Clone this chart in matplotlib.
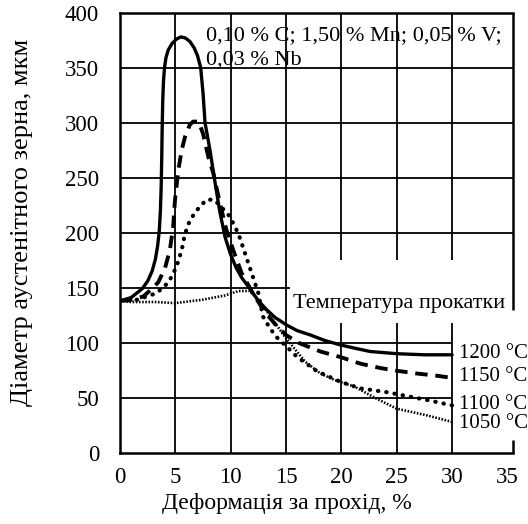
import matplotlib
matplotlib.use("Agg")
import matplotlib.pyplot as plt

plt.rcParams['font.family'] = ['Liberation Serif', 'DejaVu Serif']

# ---- data ----
x_1200 = [0, 1, 2, 2.5, 2.9, 3.2, 3.4, 3.55, 3.65, 3.72, 3.77, 3.81, 3.86, 3.93, 4.02, 4.15, 4.35, 4.7, 5.1, 5.5, 5.9, 6.3, 6.7, 7.0, 7.29, 7.5, 7.68, 8.13, 8.58, 9.0, 9.49, 10.0, 10.5, 11.0, 11.74, 12.5, 13.25, 14.0, 15.06, 16.0, 17.2, 18.5, 19.9, 21.2, 22.6, 25, 27.5, 30]
y_1200 = [138, 141, 149, 156, 165, 176, 188, 202, 220, 242, 268, 295, 320, 338, 350, 359, 366, 372, 376, 378, 377, 374, 368, 361, 350, 327, 300, 275, 246, 220, 196, 180, 168, 159, 149, 138, 130, 123, 116, 111, 107, 102, 98, 95, 92, 90, 89, 89]

x_1150 = [0, 1, 2.1, 3.0, 3.46, 4.07, 4.5, 4.8, 4.97, 5.27, 5.57, 5.87, 6.3, 6.6, 7.1, 7.5, 8.0, 8.43, 9.0, 9.6, 10.3, 11, 12, 13, 14, 15, 16.1, 18.1, 19.9, 21.7, 23.5, 25, 26.8, 28.6, 30]
y_1150 = [138, 139, 142, 150, 155, 168, 184, 205, 230, 257, 275, 287, 298, 301, 301, 290, 268, 254, 228, 203, 182, 163, 145, 129, 117, 107, 100, 92, 87, 81, 77, 74.5, 72, 70, 68]

x_1100 = [0, 1.5, 3.3, 4.4, 5.1, 5.57, 5.87, 6.3, 6.9, 7.8, 8.5, 9.0, 9.9, 10.7, 11.4, 12.0, 12.5, 12.9, 13.55, 14.15, 15.2, 16.0, 17.8, 19.9, 21.7, 24.1, 25.9, 27.7, 30]
y_1100 = [138, 139, 145, 155, 169, 184, 199, 211, 220, 230, 230, 225, 215, 199, 178, 160, 145, 124, 113, 105, 95, 87, 74, 64.5, 58.5, 55, 51.5, 48, 43]

x_1050 = [0, 1, 3.2, 5.0, 7.4, 9.5, 10.7, 11.7, 12.5, 13.3, 14.0, 15.0, 16.7, 18.1, 19.4, 21.2, 23, 25, 27.7, 30]
y_1050 = [138, 137, 137, 136, 139, 143, 147, 147, 139, 128, 118, 104, 83, 72, 66, 60, 50, 40, 34, 28]

temp_labels = ['1200 °C', '1150 °C', '1100 °C', '1050 °C']
x_ticks = [0, 5, 10, 15, 20, 25, 30, 35]
y_ticks = [0, 50, 100, 150, 200, 250, 300, 350, 400]

fig = plt.figure(figsize=(5.28, 5.24), dpi=100)
ax = fig.add_axes([120/528, 1 - 452.7/524, 393/528, 440/524])
ax.set_xlim(0, 35.5)
ax.set_ylim(0, 400)

gkw = dict(color='black', lw=1.3, zorder=1)
# horizontal grid lines (some are interrupted in the original)
for yv in [200, 250, 300, 350]:
    ax.hlines(yv, 0, 35.5, **gkw)
ax.hlines(150, 0, 15.4, **gkw)
ax.hlines([50, 100], 0, 30, **gkw)
# vertical grid lines
for xv in [5, 10, 15]:
    ax.vlines(xv, 0, 400, **gkw)
for xv in [20, 25, 30]:
    ax.vlines(xv, 0, 118, **gkw)
    ax.vlines(xv, 175, 400, **gkw)

for s in ['top', 'left', 'bottom']:
    ax.spines[s].set_linewidth(1.8)
ax.spines['right'].set_visible(False)
ax.vlines(35.5, 130, 400, color='black', lw=1.8, clip_on=False)
ax.vlines(35.5, 0, 12, color='black', lw=1.8, clip_on=False)

ax.plot(x_1200, y_1200, color='black', lw=2.4, solid_capstyle='round', solid_joinstyle='round', zorder=3)
ax.plot(x_1150, y_1150, color='black', lw=2.8, linestyle=(0, (3.2, 2.0)), zorder=3)
ax.plot(x_1100, y_1100, color='black', lw=3.0, linestyle=(0, (0.1, 1.9)), dash_capstyle='round', zorder=3)
ax.plot(x_1050, y_1050, color='black', lw=1.9, linestyle=(0, (0.6, 0.6)), zorder=3)

ax.set_xticks(x_ticks)
ax.set_yticks(y_ticks)
ax.tick_params(length=0, labelsize=16.5)
ax.tick_params(axis='x', pad=10)
ax.tick_params(axis='y', pad=15)

tfs = 16
ax.text(7.8, 379, '0,10 % C; 1,50 % Mn; 0,05 % V;', fontsize=tfs, ha='left', va='center', clip_on=False)
ax.text(7.8, 357, '0,03 % Nb', fontsize=tfs, ha='left', va='center', clip_on=False)
ax.text(15.6, 136, 'Температура прокатки', fontsize=16, ha='left', va='center')
for lbl, yy in zip(temp_labels, [90.6, 69, 43.4, 26.7]):
    ax.text(30.6, yy, lbl, fontsize=15, ha='left', va='center', clip_on=False)

fig.text(287/528, 1 - 503/524, 'Деформація за прохід, %', fontsize=17, ha='center', va='center')
fig.text(22/528, 1 - 222/524, 'Діаметр аустенітного зерна, мкм', fontsize=19, ha='center', va='center', rotation=90)

fig.savefig('out.png', dpi=100)
